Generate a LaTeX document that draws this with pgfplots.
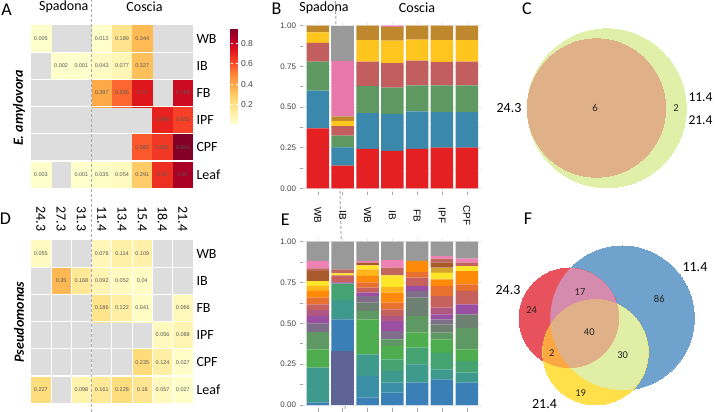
\documentclass[border=0pt]{standalone}
\usepackage{pgfplots}
\pgfplotsset{compat=1.18}
\usepackage{pgfplotstable}
\usepackage{fontspec}
\setmainfont{Carlito}
\newfontfamily\arial{Liberation Sans}
\pgfplotsset{/pgf/number format/assume math mode=true}

\definecolor{cellgray}{RGB}{221,221,221}
\definecolor{dashgray}{RGB}{170,170,170}
\definecolor{bR}{RGB}{228,32,34}
\definecolor{bB}{RGB}{59,136,173}
\definecolor{bG}{RGB}{94,153,98}
\definecolor{bRo}{RGB}{194,94,94}
\definecolor{bY}{RGB}{255,197,31}
\definecolor{bBr}{RGB}{192,136,44}
\definecolor{bPk}{RGB}{232,119,171}
\definecolor{bGr}{RGB}{154,154,154}
\definecolor{e1}{RGB}{94,100,150}
\definecolor{e2}{RGB}{58,127,182}
\definecolor{e3}{RGB}{58,143,166}
\definecolor{e4}{RGB}{62,154,140}
\definecolor{e5}{RGB}{69,163,114}
\definecolor{e6}{RGB}{78,173,78}
\definecolor{e7}{RGB}{94,152,99}
\definecolor{e8}{RGB}{110,128,113}
\definecolor{e9}{RGB}{127,110,137}
\definecolor{e10}{RGB}{154,79,162}
\definecolor{e11}{RGB}{176,88,130}
\definecolor{e12}{RGB}{199,97,94}
\definecolor{e13}{RGB}{232,113,47}
\definecolor{e14}{RGB}{255,138,10}
\definecolor{e15}{RGB}{255,182,28}
\definecolor{e16}{RGB}{255,230,42}
\definecolor{e17}{RGB}{212,165,42}
\definecolor{e18}{RGB}{168,90,43}
\definecolor{e19}{RGB}{192,102,92}
\definecolor{e20}{RGB}{238,130,180}
\definecolor{e21}{RGB}{153,153,153}
\definecolor{vGreen}{RGB}{225,240,168}
\definecolor{vTan}{RGB}{224,176,136}
\definecolor{vRed}{RGB}{232,82,92}
\definecolor{vBlue}{RGB}{111,162,204}
\definecolor{vYel}{RGB}{255,224,74}
\definecolor{vPink}{RGB}{213,139,173}
\definecolor{vLG}{RGB}{224,239,165}
\definecolor{vOr}{RGB}{251,168,66}

% cell values (c = column, Y = row from bottom: 1 Leaf ... 6 WB)
\pgfplotstableread{
c Y vA vD
1 6 0.005 0.055
4 6 0.012 0.076
5 6 0.189 0.114
6 6 0.344 0.109
2 5 0.002 0.35
3 5 0.001 0.168
4 5 0.043 0.092
5 5 0.077 0.052
6 5 0.327 0.04
4 4 0.397 0.186
5 4 0.555 0.122
6 4 0.73 0.041
8 4 0.788 0.066
7 3 0.699 0.056
8 3 0.631 0.088
6 2 0.583 0.235
7 2 0.651 0.124
8 2 0.943 0.027
1 1 0.003 0.227
3 1 0.001 0.098
4 1 0.035 0.161
5 1 0.054 0.228
6 1 0.291 0.18
7 1 0.67 0.057
8 1 0.87 0.027
}\heat

% the same cells as rectangles: four corners each (k = corner 0..3)
\pgfplotstableread{
c Y k vA vD
1 6 0 0.005 0.055
1 6 1 0.005 0.055
1 6 2 0.005 0.055
1 6 3 0.005 0.055
4 6 0 0.012 0.076
4 6 1 0.012 0.076
4 6 2 0.012 0.076
4 6 3 0.012 0.076
5 6 0 0.189 0.114
5 6 1 0.189 0.114
5 6 2 0.189 0.114
5 6 3 0.189 0.114
6 6 0 0.344 0.109
6 6 1 0.344 0.109
6 6 2 0.344 0.109
6 6 3 0.344 0.109
2 5 0 0.002 0.35
2 5 1 0.002 0.35
2 5 2 0.002 0.35
2 5 3 0.002 0.35
3 5 0 0.001 0.168
3 5 1 0.001 0.168
3 5 2 0.001 0.168
3 5 3 0.001 0.168
4 5 0 0.043 0.092
4 5 1 0.043 0.092
4 5 2 0.043 0.092
4 5 3 0.043 0.092
5 5 0 0.077 0.052
5 5 1 0.077 0.052
5 5 2 0.077 0.052
5 5 3 0.077 0.052
6 5 0 0.327 0.04
6 5 1 0.327 0.04
6 5 2 0.327 0.04
6 5 3 0.327 0.04
4 4 0 0.397 0.186
4 4 1 0.397 0.186
4 4 2 0.397 0.186
4 4 3 0.397 0.186
5 4 0 0.555 0.122
5 4 1 0.555 0.122
5 4 2 0.555 0.122
5 4 3 0.555 0.122
6 4 0 0.73 0.041
6 4 1 0.73 0.041
6 4 2 0.73 0.041
6 4 3 0.73 0.041
8 4 0 0.788 0.066
8 4 1 0.788 0.066
8 4 2 0.788 0.066
8 4 3 0.788 0.066
7 3 0 0.699 0.056
7 3 1 0.699 0.056
7 3 2 0.699 0.056
7 3 3 0.699 0.056
8 3 0 0.631 0.088
8 3 1 0.631 0.088
8 3 2 0.631 0.088
8 3 3 0.631 0.088
6 2 0 0.583 0.235
6 2 1 0.583 0.235
6 2 2 0.583 0.235
6 2 3 0.583 0.235
7 2 0 0.651 0.124
7 2 1 0.651 0.124
7 2 2 0.651 0.124
7 2 3 0.651 0.124
8 2 0 0.943 0.027
8 2 1 0.943 0.027
8 2 2 0.943 0.027
8 2 3 0.943 0.027
1 1 0 0.003 0.227
1 1 1 0.003 0.227
1 1 2 0.003 0.227
1 1 3 0.003 0.227
3 1 0 0.001 0.098
3 1 1 0.001 0.098
3 1 2 0.001 0.098
3 1 3 0.001 0.098
4 1 0 0.035 0.161
4 1 1 0.035 0.161
4 1 2 0.035 0.161
4 1 3 0.035 0.161
5 1 0 0.054 0.228
5 1 1 0.054 0.228
5 1 2 0.054 0.228
5 1 3 0.054 0.228
6 1 0 0.291 0.18
6 1 1 0.291 0.18
6 1 2 0.291 0.18
6 1 3 0.291 0.18
7 1 0 0.67 0.057
7 1 1 0.67 0.057
7 1 2 0.67 0.057
7 1 3 0.67 0.057
8 1 0 0.87 0.027
8 1 1 0.87 0.027
8 1 2 0.87 0.027
8 1 3 0.87 0.027
}\cells

\pgfplotstableread{
x r b g ro y br pk gr
1 0.369 0.231 0.179 0.116 0.064 0.041 0 0
2 0.139 0.113 0.072 0.059 0.031 0.029 0.340 0.217
3 0.242 0.221 0.166 0.150 0.133 0.088 0 0
4 0.230 0.227 0.162 0.151 0.138 0.084 0.008 0
5 0.242 0.231 0.160 0.152 0.129 0.086 0 0
6 0.250 0.219 0.164 0.144 0.135 0.088 0 0
7 0.250 0.219 0.164 0.146 0.133 0.088 0 0
}\Btab

\pgfplotstableread{
x s1 s2 s3 s4 s5 s6 s7 s8 s9 s10 s11 s12 s13 s14 s15 s16 s17 s18 s19 s20 s21
1 0 0.015 0 0.214 0 0.112 0.106 0 0.053 0.045 0.037 0.034 0.041 0.041 0.031 0.030 0 0.061 0.017 0.045 0.118
2 0.331 0.193 0 0.120 0.099 0 0 0 0 0.008 0 0.043 0 0 0 0.012 0 0 0.025 0 0.169
3 0 0.045 0.133 0.132 0 0.214 0.052 0.051 0.040 0.021 0 0.030 0.031 0.041 0.041 0.024 0 0.016 0 0.011 0.118
4 0 0.076 0.061 0.071 0.072 0.081 0.041 0 0.051 0.061 0.031 0.041 0.041 0.061 0.035 0.071 0 0 0.047 0.047 0.112
5 0 0.137 0 0.112 0.102 0.092 0.102 0.112 0.040 0.032 0 0.051 0.034 0.068 0 0 0 0 0 0 0.118
6 0 0.157 0 0.061 0.102 0.082 0.041 0.051 0.030 0.031 0.041 0.071 0.062 0.040 0 0.041 0.031 0.030 0.025 0.016 0.088
7 0 0.137 0 0.061 0.071 0.072 0.132 0.082 0 0.061 0 0.082 0.041 0.081 0 0.031 0 0 0.020 0.025 0.104
}\Etab

\pgfplotsset{
  heat/.style={scale only axis, width=162.3pt, height=163pt,
    xmin=0.5, xmax=8.5, ymin=0.5, ymax=6.5,
    axis background/.style={fill=cellgray},
    axis on top,
    axis line style={draw=none},
    ytick={1,...,6}, yticklabels={Leaf,CPF,IPF,FB,IB,WB},
    yticklabel pos=right,
    major tick length=0pt, minor tick length=0pt,
    minor xtick={1.5,2.5,...,7.5}, minor ytick={1.5,2.5,...,5.5},
    grid=minor, minor grid style={white, line width=0.8pt},
    colormap={ylorrd}{rgb255=(255,255,204) rgb255=(255,237,160) rgb255=(254,217,118) rgb255=(254,178,76) rgb255=(253,141,60) rgb255=(252,78,42) rgb255=(227,26,28) rgb255=(189,0,38) rgb255=(128,0,38)},
    point meta min=0.02, point meta max=0.95,
    ticklabel style={font=\fontsize{14}{16}\selectfont},
    clip=false},
  cellplot/.style={patch, patch type=rectangle, shader=interp, point meta=explicit},
  labplot/.style={draw=none, mark=none, point meta=explicit,
    nodes near coords, nodes near coords align={center},
    /pgf/number format/fixed, /pgf/number format/precision=3,
    every node near coord/.append style={font=\arial\fontsize{5.5}{6}\selectfont, text=black!65, anchor=center}},
  bars/.style={scale only axis, width=178.7pt, xmin=0.4, xmax=7.6,
    ymin=-0.02, ymax=1.02, ybar stacked, bar width=22.5pt,
    axis line style={draw=none},
    xtick={1,...,7}, ytick={0,0.25,0.5,0.75,1},
    yticklabels={0.00,0.25,0.50,0.75,1.00},
    minor ytick={0.125,0.375,0.625,0.875},
    grid=both, major grid style={black!9, line width=0.6pt}, minor grid style={black!5, line width=0.4pt},
    tick style={black!35, line width=0.6pt}, tick align=outside, major tick length=3.5pt,
    xtick pos=lower, ytick pos=left,
    yticklabel style={font=\arial\fontsize{8}{9}\selectfont, text=black!75},
    clip=false}
}

\begin{document}
\begin{tikzpicture}
\useasboundingbox (0,0) rectangle (716pt,412pt);

% ---------- A ----------
\begin{axis}[heat, at={(30.7pt,224pt)}, anchor=south west, xtick=\empty,
  colorbar, colorbar style={at={(parent axis.north east)}, anchor=north west,
    xshift=29pt, yshift=-3pt, scale only axis, width=7pt, height=95pt,
    ytick={0.2,0.4,0.6,0.8}, axis line style={draw=none},
    yticklabel style={font=\arial\fontsize{8.5}{9}\selectfont, text=black!75},
    major tick length=2pt, tick style={white, line width=0.6pt}}]
\addplot[cellplot] table[x expr={\thisrow{c}-0.5+and(\thisrow{k}>0,\thisrow{k}<3)}, y expr={\thisrow{Y}-0.5+(\thisrow{k}>1)}, meta=vA] {\cells};
\draw[white, line width=2pt] (axis cs:0.5,1.5) -- (axis cs:8.5,1.5);
\addplot[labplot] table[x=c, y=Y, meta=vA] {\heat};
\coordinate (dashA) at (axis cs:3.5,0.5);
\end{axis}

% ---------- D ----------
\begin{axis}[heat, at={(30.7pt,9pt)}, anchor=south west,
  xtick={1,...,8}, xticklabels={24.3,27.3,31.3,11.4,13.4,15.4,18.4,21.4},
  xticklabel pos=upper, xticklabel shift=5pt,
  xticklabel style={rotate=-90, anchor=east}]
\addplot[cellplot] table[x expr={\thisrow{c}-0.5+and(\thisrow{k}>0,\thisrow{k}<3)}, y expr={\thisrow{Y}-0.5+(\thisrow{k}>1)}, meta=vD] {\cells};
\draw[white, line width=2pt] (axis cs:0.5,1.5) -- (axis cs:8.5,1.5);
\addplot[labplot] table[x=c, y=Y, meta=vD] {\heat};
\end{axis}

% ---------- B ----------
\begin{axis}[bars, at={(303pt,220.45pt)}, anchor=south west, height=169.1pt,
  xticklabel=\empty]
\addplot[fill=bR, draw=none] table[x=x, y=r] {\Btab};
\addplot[fill=bB, draw=none] table[x=x, y=b] {\Btab};
\addplot[fill=bG, draw=none] table[x=x, y=g] {\Btab};
\addplot[fill=bRo, draw=none] table[x=x, y=ro] {\Btab};
\addplot[fill=bY, draw=none] table[x=x, y=y] {\Btab};
\addplot[fill=bBr, draw=none] table[x=x, y=br] {\Btab};
\addplot[fill=bPk, draw=none] table[x=x, y=pk] {\Btab};
\addplot[fill=bGr, draw=none] table[x=x, y=gr] {\Btab};
\draw[dashgray, line width=1pt, dash pattern=on 3pt off 2pt] (axis cs:2.5,-0.02) ++(0,-220.45pt) -- ++(0,412pt);
\end{axis}

% ---------- E ----------
\begin{axis}[bars, at={(303pt,3.7pt)}, anchor=south west, height=169.9pt,
  xticklabels={WB,IB,WB,IB,FB,IPF,CPF}, xticklabel pos=upper,
  xticklabel style={yshift=19.4pt, rotate=-90, anchor=center, font=\arial\fontsize{10}{12}\selectfont, text=black}]
\pgfplotsinvokeforeach{1,...,21}{
  \addplot[fill=e#1, draw=none] table[x=x, y=s#1] {\Etab};
}
\end{axis}

% ---------- C and F (Venn) ----------
\begin{axis}[at={(497pt,0pt)}, anchor=south west, scale only axis, width=219pt, height=412pt,
  xmin=497, xmax=716, ymin=0, ymax=412, hide axis, clip=false, clip mode=individual]
\addplot[only marks, mark=*, mark size=79.5pt, mark options={draw=vGreen, fill=vGreen, line width=0pt}] coordinates {(606.8,303.7)};
\addplot[only marks, mark=*, mark size=69.2pt, mark options={draw=vTan, fill=vTan, line width=0pt}] coordinates {(596.5,304)};
\addplot[only marks, mark=*, mark size=72pt, mark options={draw=vBlue, fill=vBlue, line width=0pt}] coordinates {(622.3,94)};
\addplot[only marks, mark=*, mark size=50pt, mark options={draw=vRed, fill=vRed, line width=0pt}] coordinates {(569,94)};
\addplot[only marks, mark=*, mark size=52.8pt, mark options={draw=vYel, fill=vYel, line width=0pt}] coordinates {(595.5,59.8)};
\begin{scope}
\clip (axis cs:569,94) circle[radius=50pt];
\fill[vPink] (axis cs:622.3,94) circle[radius=72pt];
\end{scope}
\begin{scope}
\clip (axis cs:622.3,94) circle[radius=72pt];
\fill[vLG] (axis cs:595.5,59.8) circle[radius=52.8pt];
\end{scope}
\begin{scope}
\clip (axis cs:569,94) circle[radius=50pt];
\fill[vOr] (axis cs:595.5,59.8) circle[radius=52.8pt];
\end{scope}
\begin{scope}
\clip (axis cs:569,94) circle[radius=50pt];
\clip (axis cs:622.3,94) circle[radius=72pt];
\fill[vTan] (axis cs:595.5,59.8) circle[radius=52.8pt];
\end{scope}
\end{axis}

\draw[dashgray, line width=1pt, dash pattern=on 3pt off 2pt] (dashA) ++(0,-224pt) -- ++(0,412pt);

% ---------- texts ----------
\begin{scope}[font=\fontsize{18}{20}\selectfont]
\node at (6.7pt,402pt) {A};
\node at (5.5pt,193.5pt) {D};
\node at (276.5pt,403.5pt) {B};
\node at (285.3pt,192.5pt) {E};
\node at (527pt,403pt) {C};
\node at (528pt,193pt) {F};
\end{scope}
\begin{scope}[font=\fontsize{14}{16}\selectfont]
\node at (63.8pt,405pt) {Spadona};
\node at (144.5pt,405pt) {Coscia};
\node at (324pt,404pt) {Spadona};
\node at (417pt,404pt) {Coscia};
\node[rotate=90, font=\bfseries\itshape\fontsize{14}{16}\selectfont] at (19pt,304pt) {E. amylovora};
\node[rotate=90, font=\bfseries\itshape\fontsize{14}{16}\selectfont] at (19pt,90pt) {Pseudomonas};
\node[anchor=east] at (525pt,304.4pt) {24.3};
\node[anchor=east, font=\fontsize{13.5}{15}\selectfont] at (716pt,314.5pt) {11.4};
\node[anchor=east, font=\fontsize{13.5}{15}\selectfont] at (716pt,292pt) {21.4};
\node[anchor=east] at (524pt,122pt) {24.3};
\node[anchor=west] at (679pt,145pt) {11.4};
\node at (544.5pt,8pt) {21.4};
\end{scope}
\begin{scope}[font=\fontsize{10.5}{12}\selectfont, text=black!85]
\node at (595pt,304pt) {6};
\node at (676pt,304pt) {2};
\node at (531.7pt,102pt) {24};
\node at (580pt,119.7pt) {17};
\node at (659.3pt,112.7pt) {86};
\node at (589.3pt,80.3pt) {40};
\node at (551.7pt,59.3pt) {2};
\node at (622.7pt,57pt) {30};
\node at (580.7pt,18.7pt) {19};
\end{scope}
\end{tikzpicture}
\end{document}
